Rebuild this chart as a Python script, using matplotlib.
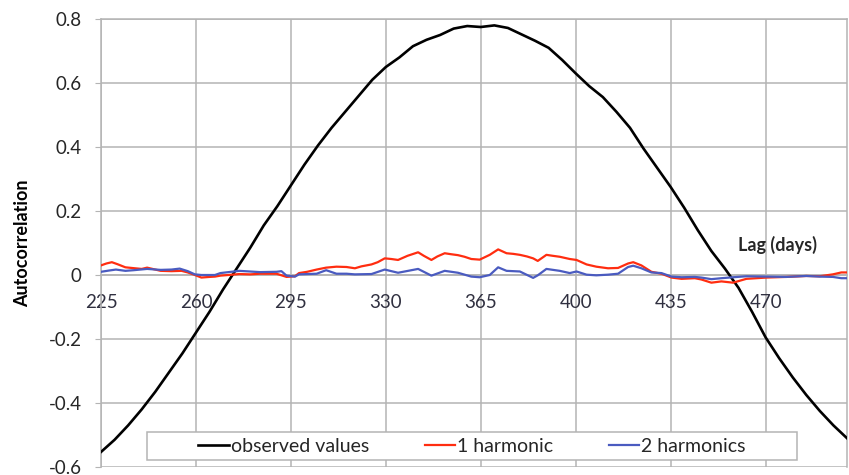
import matplotlib
matplotlib.use("Agg")
import matplotlib.pyplot as plt
from matplotlib.patches import Rectangle

# ---- data ----
obs_lag = [225, 230, 235, 240, 245, 250, 255, 260, 265, 270, 275, 280, 285, 290, 295,
           300, 305, 310, 315, 320, 325, 330, 335, 340, 345, 350, 355, 360, 365, 370,
           375, 380, 385, 390, 395, 400, 405, 410, 415, 420, 425, 430, 435, 440, 445,
           450, 455, 460, 465, 470, 475, 480, 485, 490, 495, 500]
obs_val = [-0.553, -0.515, -0.47, -0.42, -0.365, -0.305, -0.245, -0.18, -0.115, -0.045,
           0.02, 0.085, 0.155, 0.215, 0.28, 0.345, 0.405, 0.46, 0.51, 0.56, 0.61, 0.65,
           0.68, 0.715, 0.735, 0.75, 0.77, 0.778, 0.775, 0.78, 0.772, 0.752, 0.732, 0.71,
           0.672, 0.63, 0.59, 0.556, 0.51, 0.46, 0.395, 0.335, 0.275, 0.21, 0.14, 0.075,
           0.02, -0.04, -0.115, -0.195, -0.26, -0.32, -0.375, -0.425, -0.47, -0.51]

h1_lag = [225, 227, 229, 231, 234, 237.5, 240, 242, 245, 247, 251, 254.7, 257, 259.6, 262,
          265, 267, 269, 272, 276, 280, 283.6, 287, 289.7, 293.4, 296.5, 298, 301, 304.5,
          308, 311.8, 315.5, 318.6, 321, 324.7, 327, 329.6, 332, 334.5, 338, 341.9, 344,
          346.8, 349, 351.7, 354, 356.6, 359, 361.5, 364.6, 368.3, 371.4, 374.5, 377,
          379.4, 382, 384.3, 386, 389.2, 391.5, 394.1, 397.8, 400.3, 404, 407.6, 411.9,
          415.6, 419.3, 421.2, 424.2, 427.9, 431.6, 435.3, 439, 443.9, 446.3, 450, 453.7,
          458, 462.9, 470.3, 477.6, 485, 489.9, 494.8, 497.9, 500]
h1_val = [0.030, 0.036, 0.040, 0.034, 0.024, 0.021, 0.019, 0.023, 0.017, 0.013, 0.012,
          0.013, 0.008, 0.0, -0.008, -0.006, -0.005, -0.002, 0.0, 0.003, 0.002, 0.004,
          0.004, 0.004, -0.006, -0.004, 0.006, 0.010, 0.017, 0.023, 0.026, 0.025, 0.021,
          0.027, 0.033, 0.040, 0.052, 0.050, 0.047, 0.060, 0.071, 0.060, 0.047, 0.058,
          0.068, 0.065, 0.062, 0.057, 0.050, 0.048, 0.063, 0.080, 0.068, 0.066, 0.063,
          0.058, 0.052, 0.044, 0.063, 0.060, 0.057, 0.050, 0.047, 0.033, 0.026, 0.021,
          0.022, 0.036, 0.040, 0.030, 0.010, 0.004, -0.008, -0.012, -0.010, -0.014,
          -0.024, -0.020, -0.024, -0.012, -0.008, -0.006, -0.003, -0.004, 0.002, 0.008,
          0.008]

h2_lag = [225, 228, 230.5, 234, 237, 242, 247, 251, 254, 257, 259.6, 262, 267, 269, 276,
          283.6, 289.7, 291.5, 293.4, 296.5, 298, 304.5, 308, 311.8, 315.5, 318.6, 324.7,
          329.6, 334.5, 341.9, 346.8, 351.7, 356.6, 361.5, 364.6, 368.3, 371.4, 374.5,
          379.4, 384.3, 386, 389.2, 394.1, 397.8, 400.3, 404, 407.6, 411.9, 415.6, 419.3,
          421.2, 424.2, 427.9, 431.6, 435.3, 439, 443.9, 446.3, 450, 453.7, 458, 462.9,
          470.3, 477.6, 485, 489.9, 494.8, 497.9, 500]
h2_val = [0.010, 0.014, 0.017, 0.013, 0.015, 0.019, 0.016, 0.017, 0.020, 0.012, 0.002,
          0.0, 0.0, 0.006, 0.013, 0.009, 0.010, 0.012, -0.002, -0.005, 0.002, 0.004,
          0.015, 0.004, 0.004, 0.002, 0.003, 0.017, 0.007, 0.019, -0.002, 0.013, 0.007,
          -0.005, -0.007, 0.0, 0.024, 0.013, 0.011, -0.009, -0.001, 0.019, 0.013, 0.006,
          0.011, 0.001, -0.001, 0.001, 0.004, 0.025, 0.029, 0.021, 0.008, 0.006, -0.005,
          -0.007, -0.006, -0.008, -0.013, -0.010, -0.007, -0.004, -0.005, -0.006, -0.003,
          -0.005, -0.006, -0.010, -0.010]

x_ticks = [225, 260, 295, 330, 365, 400, 435, 470]
y_ticks = [-0.6, -0.4, -0.2, 0, 0.2, 0.4, 0.6, 0.8]
y_labels = ["-0.6", "-0.4", "-0.2", "0", "0.2", "0.4", "0.6", "0.8"]
series_names = ["observed values", "1 harmonic", "2 harmonics"]

# ---- plot ----
plt.rcParams['font.family'] = ['Lato', 'DejaVu Sans']
fig = plt.figure(figsize=(8.49, 4.75), dpi=100)
ax = fig.add_axes([101/849, 8/475, 746/849, 448/475])

grid_c = '#b4b4b4'
ax.set_xlim(225, 500)
ax.set_ylim(-0.6, 0.8)
ax.set_xticks(x_ticks)
ax.set_yticks(y_ticks)
ax.set_yticklabels(y_labels)
ax.grid(True, color=grid_c, linewidth=1.1)
ax.set_axisbelow(True)

for s in ['top', 'right', 'left']:
    ax.spines[s].set_color(grid_c)
    ax.spines[s].set_linewidth(1.1)
ax.spines['bottom'].set_position(('data', 0))
ax.spines['bottom'].set_color(grid_c)
ax.spines['bottom'].set_linewidth(1.1)

ax.tick_params(axis='y', length=4, color=grid_c, pad=10, labelsize=13.5, labelcolor='#262626')
ax.tick_params(axis='x', length=0, pad=14, labelsize=13.5, labelcolor='#303040')

l1, = ax.plot(obs_lag, obs_val, color='black', lw=1.9, zorder=3)
l2, = ax.plot(h1_lag, h1_val, color='#ff2d10', lw=1.6, zorder=3)
l3, = ax.plot(h2_lag, h2_val, color='#4a5bc0', lw=1.6, zorder=3)

ax.set_ylabel("Autocorrelation", fontsize=13, fontweight='bold')
ax.yaxis.set_label_coords(-(101-31)/746, 0.5)
ax.text((778-101)/746, (467-245)/448, "Lag (days)", transform=ax.transAxes,
        ha='center', va='center', fontsize=13, fontweight='bold', color='#262626')

rect = Rectangle(((147-101)/746, (467-460)/448), (797-147)/746, 28/448,
                 transform=ax.transAxes, facecolor='white', edgecolor=grid_c,
                 linewidth=1.1, zorder=5)
ax.add_patch(rect)
leg = ax.legend([l1, l2, l3], series_names, ncol=3, frameon=False,
                loc='center', bbox_to_anchor=((472-101)/746, (467-446)/448),
                fontsize=14, handlelength=1.55, handletextpad=0.12,
                columnspacing=2.85, borderpad=0.1)
leg.set_zorder(6)
for t in leg.get_texts():
    t.set_color('#262626')

fig.savefig("out.png", dpi=100)
